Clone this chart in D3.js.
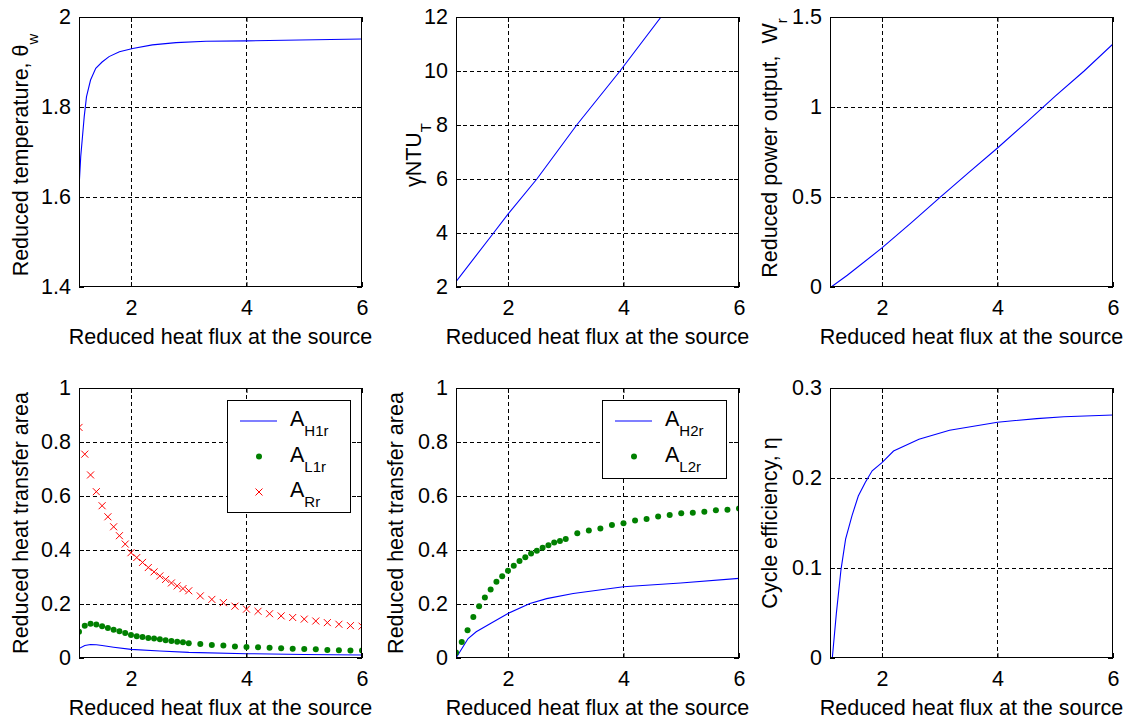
<!DOCTYPE html>
<html><head><meta charset="utf-8">
<script src="https://cdn.jsdelivr.net/npm/d3@7"></script>
<style>
body{margin:0;background:#fff;}
svg text{font-family:Arial,"Liberation Sans",Helvetica,sans-serif;fill:#000;white-space:pre;}
</style></head><body>
<svg id="fig" width="1128" height="720"></svg>
<script>
// Reduced heat flux values at which the marker series were evaluated
const fluxGrid = [1.1,1.2,1.3,1.4,1.5,1.6,1.7,1.8,1.9,2.0,2.1,2.2,2.3,2.4,2.5,2.6,2.7,2.8,2.9,3.0,
                  3.2,3.4,3.6,3.8,4.0,4.2,4.4,4.6,4.8,5.0,5.2,5.4,5.6,5.8,6.0];

// Reduced temperature theta_w
const thetaX = [1.1,1.13,1.16,1.19,1.23,1.3,1.39,1.5,1.62,1.8,2.03,2.37,2.78,3.3,4.0,4.92,6.0];
const thetaY = [1.62,1.69,1.734,1.778,1.823,1.86,1.886,1.90,1.912,1.923,1.930,1.938,1.943,1.946,1.947,1.949,1.951];

// gamma * NTU_T
const ntuX = [1.1,1.75,2.0,2.5,3.19,3.94,4.65,4.75];
const ntuY = [2.2,4.0,4.7,6.0,8.0,10.0,12.0,12.27];

// Reduced power output W_r
const powerX = [1.12,1.4,2.0,2.5,3.0,3.5,4.0,4.5,5.0,5.5,6.0];
const powerY = [0,0.065,0.217,0.355,0.497,0.635,0.772,0.915,1.06,1.2,1.35];

// Heat transfer areas, first group
const aH1rX = [1.1,1.2,1.3,1.4,1.5,1.7,2.0,2.5,3.0,4.0,5.0,6.0];
const aH1rY = [0.035,0.046,0.050,0.049,0.046,0.040,0.032,0.026,0.021,0.016,0.013,0.011];
const aL1r = [0.097,0.119,0.127,0.124,0.118,0.111,0.105,0.099,0.093,0.085,0.081,0.078,0.074,0.072,0.069,0.066,0.063,0.060,0.058,0.055,
              0.052,0.048,0.046,0.043,0.041,0.040,0.038,0.036,0.034,0.033,0.032,0.030,0.029,0.028,0.028];
const aRr = [0.854,0.755,0.678,0.616,0.564,0.523,0.486,0.453,0.422,0.390,0.372,0.354,0.335,0.319,0.304,0.291,0.278,0.267,0.257,0.249,
             0.230,0.217,0.205,0.192,0.181,0.173,0.164,0.156,0.150,0.144,0.137,0.131,0.125,0.120,0.118];

// Heat transfer areas, second group
const aH2rX = [1.1,1.31,1.45,1.69,2.0,2.38,2.67,3.13,4.0,4.99,6.0];
const aH2rY = [0,0.072,0.097,0.127,0.165,0.202,0.220,0.239,0.264,0.278,0.295];
const aL2r = [0.020,0.059,0.103,0.152,0.192,0.224,0.254,0.282,0.303,0.323,0.342,0.359,0.373,0.387,0.397,0.408,0.418,0.428,0.433,0.441,
              0.462,0.472,0.480,0.493,0.499,0.509,0.515,0.524,0.530,0.536,0.538,0.542,0.547,0.549,0.554];

// Cycle efficiency eta
const etaX = [1.14,1.21,1.29,1.37,1.48,1.59,1.71,1.83,2.0,2.2,2.64,3.17,4.0,4.68,5.15,6.0];
const etaY = [0,0.0496,0.098,0.132,0.158,0.180,0.195,0.208,0.217,0.230,0.243,0.253,0.262,0.266,0.268,0.270];

// Tick values and labels
const xTicks = [2,4,6];
const thetaTicks = [1.4,1.6,1.8,2], thetaTickLabels = ["1.4","1.6","1.8","2"];
const ntuTicks = [2,4,6,8,10,12], ntuTickLabels = ["2","4","6","8","10","12"];
const powerTicks = [0,0.5,1,1.5], powerTickLabels = ["0","0.5","1","1.5"];
const areaTicks = [0,0.2,0.4,0.6,0.8,1], areaTickLabels = ["0","0.2","0.4","0.6","0.8","1"];
const etaTicks = [0,0.1,0.2,0.3], etaTickLabels = ["0","0.1","0.2","0.3"];

const xLabel = "Reduced heat flux at the source";

const BLUE = "#0000ff", GREEN = "#008000", RED = "#ff0000";
const FONT = 21.5, SUB = 15;
const svg = d3.select("#fig");

function zip(xs, ys) { return xs.map((v, i) => [v, ys[i]]); }

function labelText(sel, parts) {
  parts.forEach(p => {
    const t = sel.append("tspan").text(p.t);
    if (p.sub) t.attr("font-size", SUB).attr("dy", 10);
  });
}

function drawPanel(o) {
  const x = d3.scaleLinear().domain([1.1, 6]).range([o.left, o.left + o.width]);
  const y = d3.scaleLinear().domain(o.yDomain).range([o.top + o.height, o.top]);
  const g = svg.append("g");
  const clipId = "clip-" + o.id;
  svg.append("clipPath").attr("id", clipId).append("rect")
    .attr("x", o.left).attr("y", o.top).attr("width", o.width).attr("height", o.height);

  g.append("rect").attr("x", o.left).attr("y", o.top).attr("width", o.width).attr("height", o.height)
    .attr("fill", "#fff");

  // dashed grid
  const grid = g.append("g").attr("stroke", "#000").attr("stroke-width", 1).attr("stroke-dasharray", "4,3");
  xTicks.filter(v => v > 1.1 && v < 6).forEach(v => {
    const px = Math.round(x(v)) + 0.5;
    grid.append("line").attr("x1", px).attr("x2", px).attr("y1", o.top).attr("y2", o.top + o.height);
  });
  o.yTicks.filter(v => v > o.yDomain[0] && v < o.yDomain[1]).forEach(v => {
    const py = Math.round(y(v)) + 0.5;
    grid.append("line").attr("y1", py).attr("y2", py).attr("x1", o.left).attr("x2", o.left + o.width);
  });

  // data
  const plot = g.append("g").attr("clip-path", `url(#${clipId})`);
  const line = d3.line().x(d => x(d[0])).y(d => y(d[1]));
  o.series.forEach(s => {
    if (s.type === "line") {
      plot.append("path").datum(s.data).attr("d", line).attr("fill", "none")
        .attr("stroke", s.color).attr("stroke-width", 1.1);
    } else if (s.type === "dot") {
      plot.selectAll(null).data(s.data).join("circle")
        .attr("cx", d => x(d[0])).attr("cy", d => y(d[1])).attr("r", 3).attr("fill", s.color);
    } else if (s.type === "cross") {
      const k = 3.5;
      plot.selectAll(null).data(s.data).join("path")
        .attr("d", d => { const cx = x(d[0]), cy = y(d[1]);
          return `M${cx-k},${cy-k}L${cx+k},${cy+k}M${cx-k},${cy+k}L${cx+k},${cy-k}`; })
        .attr("stroke", s.color).attr("stroke-width", 1).attr("fill", "none");
    }
  });

  // axes with inward ticks on all four sides
  const fmtY = v => o.yTickLabels[o.yTicks.indexOf(v)];
  const bottom = g.append("g").attr("transform", `translate(0,${o.top + o.height})`)
    .call(d3.axisBottom(x).tickValues(xTicks).tickFormat(d3.format("d")).tickSizeInner(-5).tickSizeOuter(0).tickPadding(12.5));
  const top = g.append("g").attr("transform", `translate(0,${o.top})`)
    .call(d3.axisTop(x).tickValues(xTicks).tickFormat("").tickSizeInner(-5).tickSizeOuter(0));
  const leftAx = g.append("g").attr("transform", `translate(${o.left},0)`)
    .call(d3.axisLeft(y).tickValues(o.yTicks).tickFormat(fmtY).tickSizeInner(-5).tickSizeOuter(0).tickPadding(8));
  const rightAx = g.append("g").attr("transform", `translate(${o.left + o.width},0)`)
    .call(d3.axisRight(y).tickValues(o.yTicks).tickFormat("").tickSizeInner(-5).tickSizeOuter(0));
  [bottom, top, leftAx, rightAx].forEach(a => {
    a.select(".domain").remove();
    a.selectAll("line").attr("stroke", "#000");
    a.selectAll("text").attr("font-size", FONT).attr("font-family", null);
  });

  // frame
  g.append("rect").attr("x", o.left + 0.5).attr("y", o.top + 0.5)
    .attr("width", o.width - 1).attr("height", o.height - 1)
    .attr("fill", "none").attr("stroke", "#000").attr("stroke-width", 1);

  // axis titles
  g.append("text").attr("x", o.left + o.width / 2).attr("y", o.top + o.height + 57)
    .attr("text-anchor", "middle").attr("font-size", FONT).text(xLabel);
  const yl = g.append("text")
    .attr("transform", `translate(${o.left - o.yLabelOffset},${o.top + o.height / 2 + (o.yLabelShift || 0)}) rotate(-90)`)
    .attr("text-anchor", "middle").attr("font-size", FONT);
  labelText(yl, o.yLabel);

  // legend
  if (o.legend) {
    const L = o.legend;
    g.append("rect").attr("x", L.x + 0.5).attr("y", L.y + 0.5).attr("width", L.w).attr("height", L.h)
      .attr("fill", "#fff").attr("stroke", "#000");
    L.items.forEach((it, i) => {
      const cy = L.y + 21 + i * 35.5;
      const mx = L.x + 32;
      if (it.type === "line") {
        g.append("line").attr("x1", L.x + 13).attr("x2", L.x + 50).attr("y1", cy).attr("y2", cy)
          .attr("stroke", it.color).attr("stroke-width", 1.1);
      } else if (it.type === "dot") {
        g.append("circle").attr("cx", mx).attr("cy", cy).attr("r", 3).attr("fill", it.color);
      } else {
        const k = 3.5;
        g.append("path").attr("d", `M${mx-k},${cy-k}L${mx+k},${cy+k}M${mx-k},${cy+k}L${mx+k},${cy-k}`)
          .attr("stroke", it.color).attr("fill", "none");
      }
      const t = g.append("text").attr("x", L.x + 63).attr("y", cy + 5).attr("font-size", FONT);
      t.append("tspan").text("A");
      t.append("tspan").attr("font-size", SUB).attr("dy", 10).text(it.sub);
    });
  }
}

const colX = [79, 456, 830], W = 283;
const rowY = [17, 388], H = 270;

drawPanel({ id: "theta", left: colX[0], top: rowY[0], width: W, height: H,
  yDomain: [1.4, 2], yTicks: thetaTicks, yTickLabels: thetaTickLabels, yLabelOffset: 51, yLabelShift: 3,
  yLabel: [{t: "Reduced temperature, θ"}, {t: "w", sub: true}],
  series: [{type: "line", color: BLUE, data: zip(thetaX, thetaY)}] });

drawPanel({ id: "ntu", left: colX[1], top: rowY[0], width: W, height: H,
  yDomain: [2, 12], yTicks: ntuTicks, yTickLabels: ntuTickLabels, yLabelOffset: 35, yLabelShift: 3,
  yLabel: [{t: "γNTU"}, {t: "T", sub: true}],
  series: [{type: "line", color: BLUE, data: zip(ntuX, ntuY)}] });

drawPanel({ id: "power", left: colX[2], top: rowY[0], width: W, height: H,
  yDomain: [0, 1.5], yTicks: powerTicks, yTickLabels: powerTickLabels, yLabelOffset: 53, yLabelShift: -4,
  yLabel: [{t: "Reduced power output,  W"}, {t: "r", sub: true}],
  series: [{type: "line", color: BLUE, data: zip(powerX, powerY)}] });

drawPanel({ id: "area1", left: colX[0], top: rowY[1], width: W, height: H,
  yDomain: [0, 1], yTicks: areaTicks, yTickLabels: areaTickLabels, yLabelOffset: 51,
  yLabel: [{t: "Reduced heat transfer area"}],
  series: [
    {type: "line", color: BLUE, data: zip(aH1rX, aH1rY)},
    {type: "dot", color: GREEN, data: zip(fluxGrid, aL1r)},
    {type: "cross", color: RED, data: zip(fluxGrid, aRr)}],
  legend: {x: 227, y: 400, w: 123, h: 112, items: [
    {type: "line", color: BLUE, sub: "H1r"},
    {type: "dot", color: GREEN, sub: "L1r"},
    {type: "cross", color: RED, sub: "Rr"}]} });

drawPanel({ id: "area2", left: colX[1], top: rowY[1], width: W, height: H,
  yDomain: [0, 1], yTicks: areaTicks, yTickLabels: areaTickLabels, yLabelOffset: 53,
  yLabel: [{t: "Reduced heat transfer area"}],
  series: [
    {type: "line", color: BLUE, data: zip(aH2rX, aH2rY)},
    {type: "dot", color: GREEN, data: zip(fluxGrid, aL2r)}],
  legend: {x: 602, y: 400, w: 124, h: 78, items: [
    {type: "line", color: BLUE, sub: "H2r"},
    {type: "dot", color: GREEN, sub: "L2r"}]} });

drawPanel({ id: "eta", left: colX[2], top: rowY[1], width: W, height: H,
  yDomain: [0, 0.3], yTicks: etaTicks, yTickLabels: etaTickLabels, yLabelOffset: 53,
  yLabel: [{t: "Cycle efficiency, η"}],
  series: [{type: "line", color: BLUE, data: zip(etaX, etaY)}] });
</script>
</body></html>
